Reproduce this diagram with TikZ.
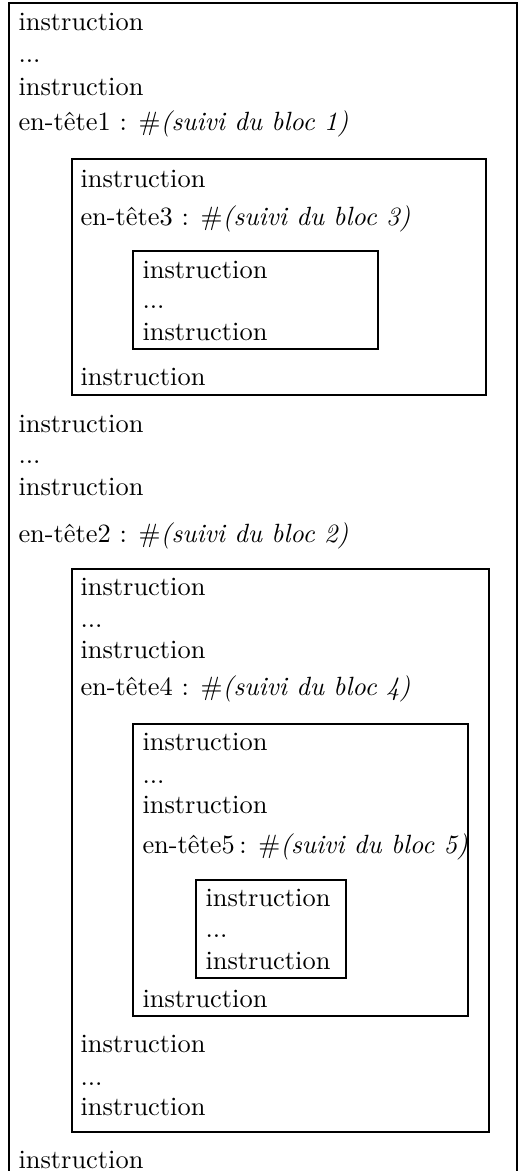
\documentclass[tikz,border=0pt]{standalone}
\tikzset{linha/.style={anchor=base west,inner sep=0pt}}
\newcommand{\cabec}[1]{en-tête#1~: $\#$\textit{(suivi du bloc #1)}}
\begin{document}
\begin{tikzpicture}[x=0.3788pt,y=-0.3788pt]
\useasboundingbox (0,0) rectangle (520,1171);
%moldura externa (aberta embaixo)
 \draw (9,1171) |- (517,3) -- (517,1171);
%nivel 0
 \node[linha] (a1) at (18,30) {instruction};
 \node[linha] (a2) at (18,62) {...};
 \node[linha] (a3) at (18,95) {instruction};
 \node[linha] (h1) at (18,130) {\cabec{1}};
%bloco 1
 \draw (72,159) rectangle (486,395);
 \node[linha] (b1) at (80,187) {instruction};
 \node[linha] (h3) at (80,225) {\cabec{3}};
%bloco 3
 \draw (133,251) rectangle (378,349);
 \node[linha] (c1) at (142,278) {instruction};
 \node[linha] (c2) at (142,308) {...};
 \node[linha] (c3) at (142,340) {instruction};
 \node[linha] (b2) at (80,385) {instruction};
%nivel 0 outra vez
 \node[linha] (a4) at (18,432) {instruction};
 \node[linha] (a5) at (18,463) {...};
 \node[linha] (a6) at (18,495) {instruction};
 \node[linha] (h2) at (18,542) {\cabec{2}};
%bloco 2
 \draw (72,569) rectangle (489,1132);
 \node[linha] (d1) at (80,595) {instruction};
 \node[linha] (d2) at (80,627) {...};
 \node[linha] (d3) at (80,658) {instruction};
 \node[linha] (h4) at (80,695) {\cabec{4}};
%bloco 4
 \draw (133,724) rectangle (468,1016);
 \node[linha] (e1) at (142,750) {instruction};
 \node[linha] (e2) at (142,783) {...};
 \node[linha] (e3) at (142,813) {instruction};
 \node[linha] (h5) at (142,853) {en-tête5\,: $\#$\textit{(suivi du bloc 5)}};
%bloco 5
 \draw (196,880) rectangle (346,978);
 \node[linha] (f1) at (205,906) {instruction};
 \node[linha] (f2) at (205,937) {...};
 \node[linha] (f3) at (205,969) {instruction};
 \node[linha] (e4) at (142,1007) {instruction};
 \node[linha] (d4) at (80,1052) {instruction};
 \node[linha] (d5) at (80,1085) {...};
 \node[linha] (d6) at (80,1115) {instruction};
%fim
 \node[linha] (a7) at (18,1168) {instruction};
\end{tikzpicture}
\end{document}
